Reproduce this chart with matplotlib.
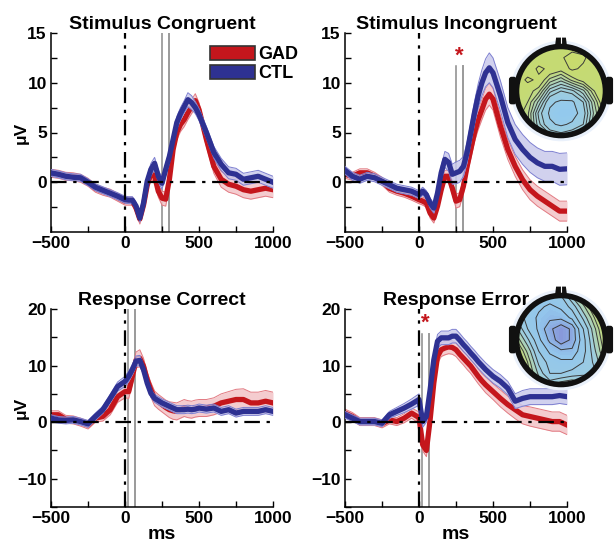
import numpy as np
import matplotlib
matplotlib.use("Agg")
import matplotlib.pyplot as plt
from matplotlib.patches import Patch, Circle, Polygon, FancyBboxPatch
from matplotlib.colors import LinearSegmentedColormap

plt.rcParams['font.family'] = ['Liberation Sans', 'DejaVu Sans']
plt.rcParams['font.weight'] = 'bold'

# ---------------- data ----------------
t = [-500, -450, -400, -350, -300, -250, -200, -150, -100, -50, 0,
     25, 50, 75, 100, 125, 150, 175, 200, 225, 250, 275, 300, 325, 350,
     375, 400, 425, 450, 475, 500, 550, 600, 650, 700, 750, 800, 850,
     900, 950, 1000]

# Stimulus Congruent
sc_gad = [0.9, 0.8, 0.6, 0.55, 0.4, 0.0, -0.6, -0.9, -1.1, -1.5, -1.9,
          -1.9, -1.9, -2.6, -3.7, -2.3, -0.3, 0.9, 0.6, -0.9, -1.6, -1.7, 0.3, 3.3, 5.0,
          5.8, 6.3, 7.0, 7.6, 8.2, 7.3, 4.3, 1.6, 0.3, -0.2, -0.4, -0.75, -0.9,
          -0.75, -0.6, -0.75]
sc_gad_se = [0.4, 0.4, 0.4, 0.4, 0.4, 0.4, 0.4, 0.4, 0.4, 0.4, 0.4,
             0.4, 0.4, 0.5, 0.5, 0.5, 0.5, 0.6, 0.6, 0.6, 0.7, 0.7, 0.7, 0.7, 0.7,
             0.7, 0.7, 0.7, 0.7, 0.7, 0.7, 0.7, 0.7, 0.8, 0.8, 0.8, 0.8, 0.8,
             0.8, 0.8, 0.8]
sc_ctl = [0.94, 0.8, 0.6, 0.5, 0.45, 0.0, -0.5, -0.8, -1.1, -1.4, -1.75,
          -1.8, -1.8, -2.4, -3.6, -2.1, 0.1, 1.3, 1.9, 0.6, -0.1, 1.3, 2.6, 4.3, 6.0,
          6.9, 7.6, 8.3, 8.0, 7.5, 6.8, 5.0, 3.0, 1.8, 0.95, 0.8, 0.3, 0.45,
          0.6, 0.3, 0.0]
sc_ctl_se = [0.35, 0.35, 0.35, 0.35, 0.35, 0.35, 0.35, 0.35, 0.35, 0.35, 0.35,
             0.35, 0.35, 0.4, 0.4, 0.4, 0.5, 0.6, 0.6, 0.6, 0.6, 0.6, 0.6, 0.6, 0.6,
             0.6, 0.6, 0.7, 0.7, 0.6, 0.6, 0.6, 0.6, 0.6, 0.6, 0.6, 0.6, 0.6,
             0.6, 0.6, 0.6]

# Stimulus Incongruent
si_gad = [0.8, 0.6, 0.95, 0.95, 0.6, 0.1, -0.6, -0.9, -1.1, -1.4, -1.75,
          -1.9, -2.1, -3.1, -3.6, -2.4, -0.75, 0.6, 0.6, -0.6, -1.9, -1.75, -0.4, 1.6, 3.3,
          5.0, 6.3, 7.3, 8.35, 8.85, 8.35, 5.65, 3.3, 1.6, 0.25, -0.75, -1.4, -1.9,
          -2.4, -2.9, -2.9]
si_gad_se = [0.4, 0.4, 0.4, 0.4, 0.4, 0.4, 0.4, 0.4, 0.4, 0.4, 0.4,
             0.4, 0.4, 0.5, 0.5, 0.5, 0.6, 0.6, 0.6, 0.6, 0.7, 0.7, 0.7, 0.8, 0.9,
             0.9, 1.0, 1.0, 1.1, 1.1, 1.1, 1.1, 1.0, 1.0, 1.0, 1.0, 1.0, 1.0,
             1.0, 1.0, 1.0]
si_ctl = [1.2, 0.6, 0.3, 0.6, 0.45, 0.1, -0.25, -0.6, -0.75, -0.9, -1.25,
          -0.9, -1.25, -2.1, -2.6, -1.1, 0.95, 2.3, 2.0, 0.8, 0.95, 1.1, 1.6, 3.0, 5.0,
          7.0, 8.7, 10.0, 11.0, 11.5, 11.0, 8.7, 6.0, 4.3, 3.3, 2.5, 1.95, 1.6,
          1.6, 1.3, 1.35]
si_ctl_se = [0.4, 0.4, 0.4, 0.4, 0.4, 0.4, 0.4, 0.4, 0.4, 0.4, 0.4,
             0.4, 0.4, 0.5, 0.5, 0.6, 0.7, 0.8, 0.9, 1.0, 1.1, 1.1, 1.0, 1.0, 1.0,
             1.1, 1.2, 1.3, 1.4, 1.5, 1.5, 1.5, 1.5, 1.5, 1.5, 1.5, 1.5, 1.5,
             1.5, 1.6, 1.6]

# Response Correct
rc_gad = [1.3, 1.3, 0.5, 0.4, 0.0, -0.5, 0.7, 1.0, 2.2, 4.5, 5.4,
          5.4, 8.1, 11.0, 11.3, 9.9, 7.5, 5.7, 4.2, 3.6, 3.1, 2.6, 2.2, 2.0, 1.9,
          2.2, 2.5, 2.3, 2.2, 2.4, 2.5, 2.5, 2.8, 3.4, 3.7, 4.0, 4.0, 3.4,
          3.4, 3.7, 3.4]
rc_gad_se = [0.7, 0.7, 0.7, 0.7, 0.7, 0.7, 0.7, 0.8, 0.9, 1.0, 1.1,
             1.2, 1.3, 1.4, 1.5, 1.4, 1.3, 1.3, 1.3, 1.3, 1.3, 1.3, 1.4, 1.5, 1.5,
             1.5, 1.5, 1.5, 1.5, 1.5, 1.5, 1.5, 1.5, 1.6, 1.7, 1.8, 1.9, 1.9,
             1.9, 1.9, 1.9]
rc_ctl = [0.7, 0.4, 0.3, 0.4, 0.1, -0.3, 1.0, 2.2, 4.2, 6.3, 7.2,
          8.1, 9.3, 10.8, 10.9, 9.3, 6.9, 5.1, 4.2, 3.8, 3.4, 3.1, 2.8, 2.5, 2.2,
          2.2, 2.2, 2.3, 2.2, 2.3, 2.5, 2.3, 2.5, 1.9, 2.2, 1.6, 1.9, 1.9,
          1.9, 2.2, 1.9]
rc_ctl_se = [0.6, 0.6, 0.6, 0.6, 0.6, 0.6, 0.6, 0.6, 0.7, 0.8, 0.9,
             0.9, 0.9, 0.9, 0.9, 0.8, 0.7, 0.7, 0.7, 0.7, 0.7, 0.7, 0.7, 0.7, 0.7,
             0.7, 0.7, 0.7, 0.7, 0.7, 0.7, 0.7, 0.7, 0.7, 0.7, 0.7, 0.7, 0.7,
             0.7, 0.7, 0.7]

# Response Error
re_gad = [1.6, 1.0, 0.1, 0.1, 0.1, -0.3, 0.4, 0.1, 0.7, 1.6, 0.8,
          -4.0, -5.0, 0.4, 6.9, 11.6, 12.8, 13.1, 13.3, 13.2, 12.8, 12.0, 11.3, 10.6, 9.9,
          9.0, 8.1, 7.3, 6.6, 6.0, 5.4, 4.2, 3.1, 2.2, 1.3, 1.0, 0.7, 0.4,
          0.1, 0.1, -0.5]
re_gad_se = [0.7, 0.7, 0.7, 0.7, 0.7, 0.7, 0.7, 0.7, 0.8, 0.9, 1.0,
             1.1, 1.1, 1.2, 1.2, 1.2, 1.2, 1.2, 1.2, 1.2, 1.2, 1.2, 1.2, 1.3, 1.3,
             1.3, 1.3, 1.3, 1.4, 1.4, 1.4, 1.5, 1.5, 1.6, 1.6, 1.7, 1.7, 1.7,
             1.7, 1.7, 1.7]
re_ctl = [1.3, 0.7, 0.1, 0.1, 0.1, -0.2, 1.3, 1.9, 2.5, 3.2, 4.0,
          0.1, 1.0, 5.7, 11.0, 14.3, 14.9, 14.9, 14.9, 15.2, 15.2, 14.5, 13.7, 13.0, 12.2,
          11.5, 10.7, 10.0, 9.3, 8.7, 8.1, 7.2, 6.0, 3.7, 4.2, 4.5, 4.5, 4.5,
          4.5, 4.7, 4.5]
re_ctl_se = [0.6, 0.6, 0.6, 0.6, 0.6, 0.6, 0.6, 0.7, 0.8, 0.9, 1.0,
             1.0, 1.0, 1.1, 1.2, 1.2, 1.2, 1.2, 1.2, 1.2, 1.2, 1.2, 1.2, 1.2, 1.2,
             1.2, 1.2, 1.2, 1.2, 1.2, 1.2, 1.2, 1.2, 1.3, 1.4, 1.4, 1.4, 1.4,
             1.4, 1.4, 1.4]

titles = ["Stimulus Congruent", "Stimulus Incongruent", "Response Correct", "Response Error"]
groups = ["GAD", "CTL"]
x_ticks = [-500, -250, 0, 250, 500, 750, 1000]
x_labels = ["\u2212500", "", "0", "", "500", "", "1000"]
top_ylim = (-5, 15)
top_yticks = [-2.5, 0, 2.5, 5, 7.5, 10, 12.5, 15]
top_ylabels = ["", "0", "", "5", "", "10", "", "15"]
bot_ylim = (-15, 20)
bot_yticks = [-15, -10, -5, 0, 5, 10, 15, 20]
bot_ylabels = ["", "\u221210", "", "0", "", "10", "", "20"]
sig_windows = [(250, 300), (250, 300), (20, 70), (20, 70)]
sig_tops = [15, 11.7, 20, 15.6]
star_pos = [None, (275, 12.7), None, (45, 17.4)]

# topography grids (rows top->bottom, cols left->right)
topo_incong = [
    [0.0, 0.0, 0.0, 0.0, 0.0, 0.0, 0.0, 0.0, 0.0],
    [0.0, 0.0, 0.0, 0.0, 0.1, 0.3, 0.2, 0.0, 0.0],
    [0.0, 0.0, 0.2, 0.1, 0.0, 0.2, 0.1, 0.0, 0.0],
    [0.0, 0.2, 0.1, -0.3, -0.5, -0.2, 0.0, 0.0, 0.0],
    [0.0, 0.0, -0.2, -0.8, -1.0, -0.9, -0.6, -0.1, 0.1],
    [0.0, -0.1, -0.6, -1.2, -1.3, -1.3, -1.0, -0.4, 0.2],
    [0.0, -0.2, -0.9, -1.3, -1.4, -1.4, -1.1, -0.5, 0.0],
    [0.0, -0.2, -0.8, -1.2, -1.3, -1.2, -1.0, -0.4, 0.0],
    [0.0, -0.1, -0.5, -0.8, -0.9, -0.8, -0.6, -0.3, 0.0],
]
topo_error = [
    [0.6, 0.4, -0.2, -0.3, -0.2, 0.3, 0.7, 0.9, 1.0],
    [0.3, -0.1, -0.4, -0.5, -0.4, -0.1, 0.4, 0.8, 1.0],
    [0.0, -0.3, -0.5, -0.6, -0.6, -0.4, 0.1, 0.6, 1.0],
    [0.3, -0.2, -0.5, -0.8, -1.0, -0.8, -0.2, 0.4, 0.9],
    [0.6, 0.1, -0.4, -0.7, -1.0, -0.8, -0.3, 0.3, 0.8],
    [0.9, 0.4, -0.2, -0.5, -0.6, -0.6, -0.3, 0.2, 0.7],
    [1.0, 0.6, 0.0, -0.3, -0.4, -0.4, -0.2, 0.1, 0.5],
    [1.0, 0.7, 0.2, -0.2, -0.2, -0.1, 0.0, 0.0, 0.3],
    [1.0, 0.8, 0.4, 0.2, 0.4, 0.5, 0.3, 0.1, 0.2],
]
incong_lines = [-1.25, -1.0, -0.85, -0.7, -0.55, -0.4, -0.25, -0.1, 0.15]
error_lines = [-0.85, -0.65, -0.45, -0.2, 0.05, 0.25, 0.45, 0.6, 0.75, 0.9]

series = [
    (sc_gad, sc_gad_se, sc_ctl, sc_ctl_se),
    (si_gad, si_gad_se, si_ctl, si_ctl_se),
    (rc_gad, rc_gad_se, rc_ctl, rc_ctl_se),
    (re_gad, re_gad_se, re_ctl, re_ctl_se),
]

# ---------------- style ----------------
RED = '#c4161c'
RED_BAND = '#f3c4c7'
RED_EDGE = '#e27a82'
BLUE = '#2e3192'
BLUE_BAND = '#c9c9ec'
BLUE_EDGE = '#7d7fd0'
FS = 12.5
TFS = 14

W, H = 616, 542
fig = plt.figure(figsize=(W / 100, H / 100), dpi=100)

def px_axes(l, t_, r, b):
    return fig.add_axes([l / W, 1 - b / H, (r - l) / W, (b - t_) / H])

rects = [(51, 33, 273, 232), (345, 33, 567, 232), (51, 309, 273, 507), (345, 309, 567, 507)]
axes = []
tt = np.array(t, dtype=float)
for i, (rect, title) in enumerate(zip(rects, titles)):
    ax = px_axes(*rect)
    axes.append(ax)
    gad, gad_se, ctl, ctl_se = [np.array(a, dtype=float) for a in series[i]]
    top = i < 2
    ylim = top_ylim if top else bot_ylim
    w0, w1 = sig_windows[i]
    for xv, c, lw in [(w0, '#8a8a8a', 1.1), (w1, '#9a9a9a', 1.4)]:
        ax.plot([xv, xv], [ylim[0], sig_tops[i]], color=c, lw=lw, zorder=1)
    for m, s, c, bc, ec, z in [(gad, gad_se, RED, RED_BAND, RED_EDGE, 2), (ctl, ctl_se, BLUE, BLUE_BAND, BLUE_EDGE, 4)]:
        ax.fill_between(tt, m - s, m + s, color=bc, lw=0, zorder=z, alpha=0.85)
        ax.plot(tt, m - s, color=ec, lw=0.7, zorder=z)
        ax.plot(tt, m + s, color=ec, lw=0.7, zorder=z)
        ax.plot(tt, m, color=c, lw=3.8, zorder=z + 0.5, solid_joinstyle='round')
    ax.axhline(0, color='black', lw=1.6, dashes=(7, 3, 1.5, 3), zorder=6)
    ax.axvline(0, color='black', lw=1.6, dashes=(7, 3, 1.5, 3), zorder=6)
    if star_pos[i] is not None:
        ax.text(star_pos[i][0], star_pos[i][1], '*', color=RED, fontsize=16,
                ha='center', va='center', fontweight='bold', zorder=7)
    ax.set_xlim(-500, 1000)
    ax.set_ylim(*ylim)
    ax.set_xticks(x_ticks)
    ax.set_xticklabels(x_labels)
    if top:
        ax.set_yticks(top_yticks)
        ax.set_yticklabels(top_ylabels)
    else:
        ax.set_yticks(bot_yticks)
        ax.set_yticklabels(bot_ylabels)
    ax.tick_params(direction='in', length=4, width=1, labelsize=FS, pad=3)
    for lab in ax.get_xticklabels() + ax.get_yticklabels():
        lab.set_fontweight('bold')
    ax.spines['top'].set_visible(False)
    ax.spines['right'].set_visible(False)
    for sp in ['left', 'bottom']:
        ax.spines[sp].set_linewidth(1.1)
    ax.set_title(title, fontsize=TFS, fontweight='bold', pad=1)
    if i % 2 == 0:
        ax.set_ylabel('\u03bcV', fontsize=FS, fontweight='bold')
        ax.yaxis.set_label_coords(-0.10, 0.5)
    if i >= 2:
        ax.set_xlabel('ms', fontsize=TFS, fontweight='bold', labelpad=0)

handles = [Patch(facecolor=RED, edgecolor='#333333', lw=1.2),
           Patch(facecolor=BLUE, edgecolor='#333333', lw=1.2)]
leg = axes[0].legend(handles, groups, loc='upper left', bbox_to_anchor=(0.716, 0.935),
                     frameon=False, handlelength=2.5, handleheight=0.8,
                     handletextpad=0.15, labelspacing=0.1, borderpad=0, borderaxespad=0,
                     prop={'weight': 'bold', 'size': 13})

# ---------------- head maps ----------------
cmap_inc = LinearSegmentedColormap.from_list('inc', [(0.0, '#93c9ee'), (0.45, '#a6d1cf'),
                                                     (0.8, '#c4da76'), (1.0, '#c9db6c')])
cmap_err = LinearSegmentedColormap.from_list('err', [(0.0, '#8797da'), (0.25, '#93c6ec'),
                                                     (0.55, '#9dcde0'), (0.85, '#c3d978'),
                                                     (1.0, '#cddb5e')])

def head(cx, cy, grid, vmin, vmax, cmap, lines):
    half = 62
    hax = fig.add_axes([(cx - half) / W, 1 - (cy + half) / H, 2 * half / W, 2 * half / H])
    lim = half / 44.5
    hax.set_xlim(-lim, lim)
    hax.set_ylim(-lim, lim)
    hax.set_aspect('equal')
    hax.axis('off')
    hax.add_patch(Circle((0, 0), 1.13, facecolor='#eaf1fb', edgecolor='none', zorder=0))
    g = np.array(grid, dtype=float)[::-1]
    xs = np.linspace(-1, 1, g.shape[1])
    ys = np.linspace(-1, 1, g.shape[0])
    levels = np.linspace(vmin, vmax, 40)
    cf = hax.contourf(xs, ys, g, levels=levels, cmap=cmap, extend='both', zorder=1)
    cl = hax.contour(xs, ys, g, levels=lines, colors='#3a3a3a', linewidths=0.7,
                     linestyles='solid', zorder=2)
    clip = Circle((0, 0), 1.0, transform=hax.transData)
    cf.set_clip_path(clip)
    cl.set_clip_path(clip)
    for sgn in (-1, 1):
        hax.add_patch(FancyBboxPatch((sgn * 1.0 - (0.17 if sgn < 0 else 0), -0.30), 0.17, 0.62,
                                     boxstyle='round,pad=0,rounding_size=0.06',
                                     facecolor='#111111', edgecolor='none', zorder=3))
    hax.add_patch(Polygon([(-0.14, 0.97), (-0.11, 1.2), (0.11, 1.2), (0.14, 0.97)],
                          closed=True, facecolor='#111111', edgecolor='none', zorder=3))
    hax.plot([0, 0], [1.08, 1.21], color='white', lw=0.8, zorder=4)
    hax.add_patch(Circle((0, 0), 1.0, facecolor='none', edgecolor='#111111', lw=4.0, zorder=5))

head(561, 91, topo_incong, -1.4, 0.3, cmap_inc, incong_lines)
head(561, 340, topo_error, -1.0, 1.1, cmap_err, error_lines)

fig.savefig('out.png', dpi=100)
